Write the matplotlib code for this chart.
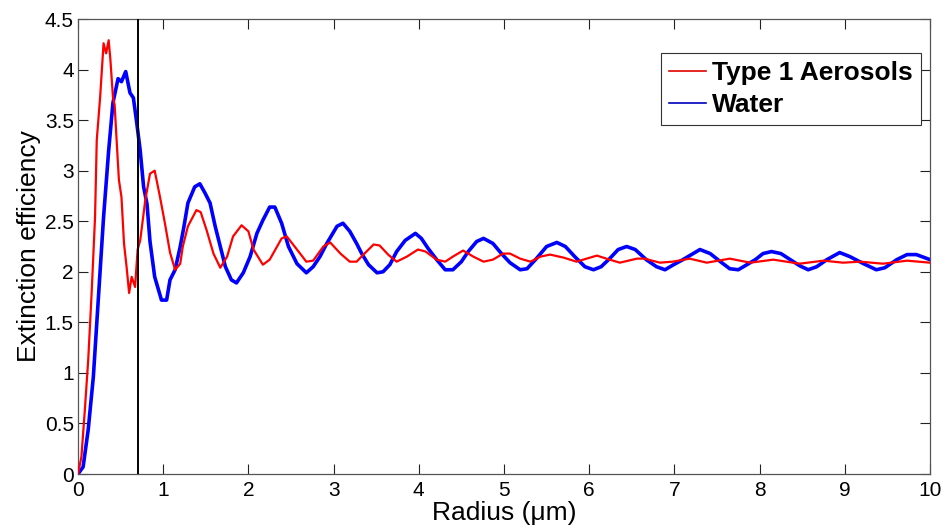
import matplotlib
matplotlib.use("Agg")
import matplotlib.pyplot as plt
from matplotlib.lines import Line2D

plt.rcParams['font.family'] = ['Liberation Sans', 'DejaVu Sans']

# Type 1 Aerosols (red)
aer_r = [0, 0.04, 0.08, 0.12, 0.16, 0.20, 0.22, 0.26, 0.30, 0.33, 0.36, 0.38, 0.41, 0.43,
         0.46, 0.48, 0.51, 0.54, 0.57, 0.60, 0.63, 0.67, 0.70, 0.73, 0.79, 0.845, 0.90,
         0.96, 1.02, 1.08, 1.14, 1.20, 1.23, 1.29, 1.39, 1.44, 1.51, 1.59, 1.67, 1.75,
         1.82, 1.92, 2.00, 2.06, 2.17, 2.25, 2.39, 2.45, 2.57, 2.68, 2.76, 2.88, 2.96,
         3.08, 3.19, 3.27, 3.35, 3.47, 3.54, 3.64, 3.74, 3.86, 3.99, 4.08, 4.21, 4.31,
         4.40, 4.52, 4.64, 4.76, 4.87, 4.99, 5.07, 5.19, 5.31, 5.43, 5.54, 5.70, 5.85,
         5.97, 6.09, 6.24, 6.36, 6.56, 6.65, 6.83, 6.98, 7.18, 7.38, 7.65, 7.89, 8.16,
         8.47, 8.75, 8.98, 9.18, 9.45, 9.73, 10.0]
aer_q = [0, 0.17, 0.63, 1.13, 1.79, 2.54, 3.30, 3.73, 4.26, 4.16, 4.29, 4.10, 3.73, 3.65,
         3.20, 2.91, 2.74, 2.28, 2.05, 1.79, 1.95, 1.85, 2.22, 2.31, 2.71, 2.97, 3.00,
         2.75, 2.48, 2.19, 2.02, 2.08, 2.25, 2.45, 2.61, 2.59, 2.41, 2.18, 2.04, 2.15,
         2.35, 2.46, 2.40, 2.22, 2.07, 2.12, 2.33, 2.35, 2.22, 2.10, 2.11, 2.25, 2.29,
         2.18, 2.10, 2.10, 2.17, 2.27, 2.26, 2.17, 2.10, 2.15, 2.22, 2.20, 2.12, 2.10,
         2.15, 2.21, 2.15, 2.10, 2.12, 2.18, 2.18, 2.13, 2.10, 2.15, 2.17, 2.14, 2.10,
         2.13, 2.16, 2.12, 2.09, 2.13, 2.13, 2.09, 2.10, 2.13, 2.09, 2.13, 2.09, 2.12,
         2.08, 2.11, 2.09, 2.10, 2.08, 2.11, 2.09]

# Water (blue)
wat_r = [0, 0.06, 0.12, 0.18, 0.24, 0.30, 0.36, 0.41, 0.47, 0.51, 0.56, 0.61, 0.65, 0.69,
         0.73, 0.77, 0.81, 0.845, 0.90, 0.98, 1.04, 1.08, 1.14, 1.20, 1.24, 1.29, 1.37,
         1.43, 1.49, 1.55, 1.61, 1.67, 1.73, 1.80, 1.86, 1.94, 2.02, 2.10, 2.17, 2.25,
         2.31, 2.39, 2.47, 2.57, 2.68, 2.76, 2.84, 2.92, 3.04, 3.11, 3.19, 3.27, 3.33,
         3.41, 3.51, 3.58, 3.66, 3.74, 3.84, 3.96, 4.03, 4.11, 4.21, 4.31, 4.40, 4.50,
         4.58, 4.68, 4.76, 4.87, 4.97, 5.07, 5.19, 5.27, 5.38, 5.50, 5.62, 5.72, 5.83,
         5.95, 6.05, 6.14, 6.24, 6.34, 6.44, 6.54, 6.67, 6.79, 6.89, 6.99, 7.10, 7.18,
         7.30, 7.42, 7.54, 7.65, 7.75, 7.85, 7.95, 8.04, 8.14, 8.25, 8.36, 8.47, 8.57,
         8.67, 8.79, 8.94, 9.06, 9.22, 9.37, 9.47, 9.61, 9.73, 9.84, 10.0]
wat_q = [0, 0.07, 0.44, 0.96, 1.75, 2.54, 3.20, 3.67, 3.91, 3.88, 3.98, 3.77, 3.72, 3.47,
         3.20, 2.84, 2.67, 2.30, 1.95, 1.72, 1.72, 1.92, 2.02, 2.25, 2.43, 2.68, 2.84,
         2.87, 2.78, 2.68, 2.45, 2.25, 2.05, 1.92, 1.89, 1.99, 2.15, 2.38, 2.51, 2.64,
         2.64, 2.48, 2.25, 2.08, 1.99, 2.05, 2.15, 2.28, 2.45, 2.48, 2.40, 2.28, 2.18,
         2.07, 1.99, 2.00, 2.07, 2.20, 2.31, 2.38, 2.33, 2.23, 2.12, 2.02, 2.02, 2.10,
         2.20, 2.30, 2.33, 2.28, 2.18, 2.09, 2.02, 2.03, 2.13, 2.25, 2.29, 2.25, 2.15,
         2.05, 2.02, 2.05, 2.13, 2.22, 2.25, 2.22, 2.12, 2.05, 2.02, 2.07, 2.12, 2.16,
         2.22, 2.18, 2.10, 2.03, 2.02, 2.07, 2.12, 2.18, 2.20, 2.18, 2.12, 2.06, 2.02,
         2.05, 2.12, 2.19, 2.15, 2.08, 2.02, 2.04, 2.12, 2.17, 2.17, 2.12]

marker_radius = 0.70
x_ticks = list(range(0, 11))
y_ticks = [0, 0.5, 1, 1.5, 2, 2.5, 3, 3.5, 4, 4.5]
y_ticklabels = ['0', '0.5', '1', '1.5', '2', '2.5', '3', '3.5', '4', '4.5']

fig = plt.figure(figsize=(9.48, 5.31), dpi=100)
ax = fig.add_axes([78/948, 57/531, (930-78)/948, (474-19)/531])

ax.plot(aer_r, aer_q, color='#ff0000', lw=1.6, zorder=3)
ax.plot(wat_r, wat_q, color='#0000ff', lw=2.6, zorder=2)
ax.axvline(marker_radius, color='black', lw=1.4, zorder=4)

ax.set_xlim(0, 10)
ax.set_ylim(0, 4.5)
ax.set_xticks(x_ticks)
ax.set_yticks(y_ticks)
ax.set_yticklabels(y_ticklabels)
ax.tick_params(direction='in', length=7, width=0.8, top=True, right=True,
               labelsize=15, colors='#222222', labelcolor='black')
ax.tick_params(axis='y', pad=3)
ax.tick_params(axis='x', pad=5)
for s in ax.spines.values():
    s.set_color('#555555')
    s.set_linewidth(0.9)

ax.set_xlabel('Radius (\u03bcm)', fontsize=19, labelpad=1)
ax.set_ylabel('Extinction efficiency', fontsize=19, labelpad=3)

handles = [Line2D([0], [0], color='#e00000', lw=1.2),
           Line2D([0], [0], color='#0000c0', lw=1.2)]
leg = ax.legend(handles, ['Type 1 Aerosols', 'Water'], loc='upper right',
                bbox_to_anchor=(0.9894, 0.925), prop={'weight': 'bold', 'size': 19},
                frameon=True, fancybox=False, framealpha=1, edgecolor='#333333',
                handlelength=1.4, handletextpad=0.25, borderpad=0.3,
                labelspacing=0.3, borderaxespad=0)
leg.get_frame().set_linewidth(0.8)

fig.savefig('out.png', dpi=100)
